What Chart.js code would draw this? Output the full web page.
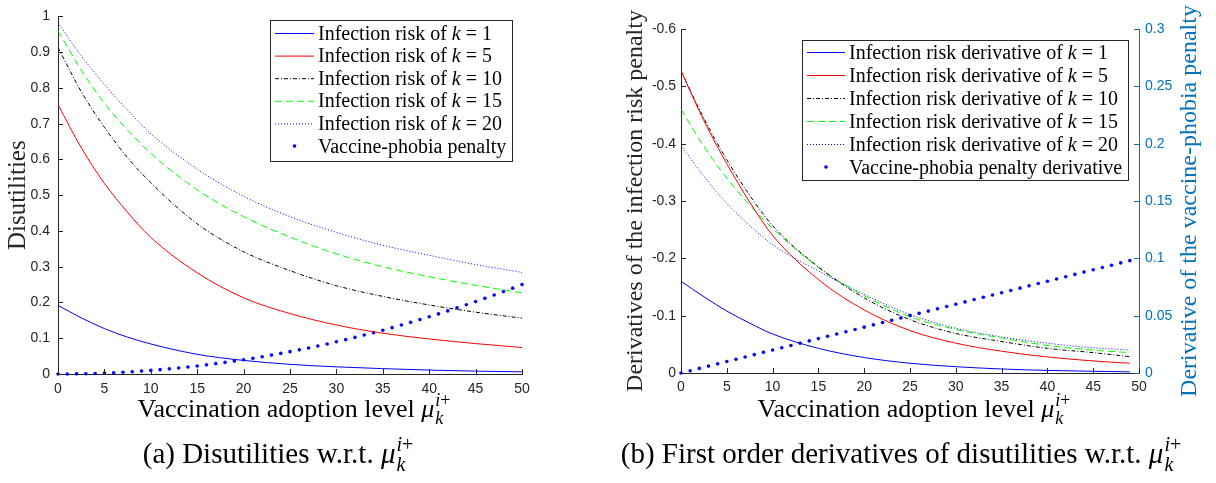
<!DOCTYPE html>
<html>
<head>
<meta charset="utf-8">
<script src="https://cdn.jsdelivr.net/npm/chart.js@4/dist/chart.umd.min.js"></script>
<style>
  body { margin: 0; background: #fff; width: 1216px; height: 483px; overflow: hidden; position: relative; }
  canvas { position: absolute; top: 0; }
  #izq { left: 0; }
  #der { left: 600px; }
</style>
</head>
<body>
<canvas id="izq" width="600" height="483"></canvas>
<canvas id="der" width="616" height="483"></canvas>
<script>
// DATOS

var etiquetasK = ['1', '5', '10', '15', '20'];

// (a) riesgo de infección
var mu = [0, 2.5, 5, 7.5, 10, 15, 20, 25, 30, 35, 40, 45, 50];
var riesgoK1 = [0.192, 0.157, 0.127, 0.103, 0.084, 0.055, 0.038, 0.027, 0.020, 0.015, 0.011, 0.008, 0.006];
var riesgoK5 = [0.753, 0.633, 0.533, 0.452, 0.382, 0.283, 0.213, 0.169, 0.137, 0.114, 0.098, 0.085, 0.074];
var riesgoK10 = [0.913, 0.79, 0.69, 0.605, 0.535, 0.42, 0.342, 0.289, 0.247, 0.217, 0.193, 0.173, 0.156];
var riesgoK15 = [0.96, 0.85, 0.757, 0.682, 0.617, 0.515, 0.44, 0.383, 0.336, 0.3, 0.272, 0.248, 0.227];
var riesgoK20 = [0.982, 0.89, 0.81, 0.738, 0.672, 0.573, 0.497, 0.44, 0.396, 0.36, 0.332, 0.306, 0.284];

var muEnteros = [0, 1, 2, 3, 4, 5, 6, 7, 8, 9, 10, 11, 12, 13, 14, 15, 16, 17, 18, 19, 20,
    21, 22, 23, 24, 25, 26, 27, 28, 29, 30, 31, 32, 33, 34, 35, 36, 37, 38, 39, 40,
    41, 42, 43, 44, 45, 46, 47, 48, 49, 50];
var penalizacion = [0, 0.0001, 0.0004, 0.0009, 0.0016, 0.0025, 0.0036, 0.0049, 0.0064, 0.0081, 0.01,
    0.0121, 0.0144, 0.0169, 0.0196, 0.0225, 0.0256, 0.0289, 0.0324, 0.0361, 0.04,
    0.0441, 0.0484, 0.0529, 0.0576, 0.0625, 0.0676, 0.0729, 0.0784, 0.0841, 0.09,
    0.0961, 0.1024, 0.1089, 0.1156, 0.1225, 0.1296, 0.1369, 0.1444, 0.1521, 0.16,
    0.1681, 0.1764, 0.1849, 0.1936, 0.2025, 0.2116, 0.2209, 0.2304, 0.2401, 0.25];

// (b) derivadas
var muDeriv = [0, 2.5, 5, 7.5, 10, 15, 20, 25, 30, 35, 40, 45, 49];
var derivK1 = [-0.16, -0.133, -0.108, -0.087, -0.068, -0.043, -0.027, -0.017, -0.011, -0.007, -0.0045, -0.003, -0.002];
var derivK5 = [-0.527, -0.44, -0.365, -0.298, -0.24, -0.163, -0.11, -0.074, -0.052, -0.038, -0.028, -0.021, -0.017];
var derivK10 = [-0.527, -0.444, -0.372, -0.31, -0.257, -0.185, -0.131, -0.093, -0.069, -0.055, -0.043, -0.0355, -0.0285];
var derivK15 = [-0.46, -0.395, -0.34, -0.293, -0.252, -0.184, -0.135, -0.098, -0.076, -0.061, -0.048, -0.04, -0.0355];
var derivK20 = [-0.397, -0.343, -0.296, -0.257, -0.224, -0.178, -0.137, -0.102, -0.078, -0.063, -0.052, -0.044, -0.04];

var muDerivEnteros = muEnteros.slice(0, 50);
var derivPenalizacion = [0, 0.002, 0.004, 0.006, 0.008, 0.01, 0.012, 0.014, 0.016, 0.018, 0.02,
    0.022, 0.024, 0.026, 0.028, 0.03, 0.032, 0.034, 0.036, 0.038, 0.04,
    0.042, 0.044, 0.046, 0.048, 0.05, 0.052, 0.054, 0.056, 0.058, 0.06,
    0.062, 0.064, 0.066, 0.068, 0.07, 0.072, 0.074, 0.076, 0.078, 0.08,
    0.082, 0.084, 0.086, 0.088, 0.09, 0.092, 0.094, 0.096, 0.098];

// ESTILOS

var gris = '#262626';
var azulEje = '#0072BD';
var serif = '"Liberation Serif", "Times New Roman", serif';
var sans = '"Liberation Sans", Arial, sans-serif';

var estilos = [
    { color: '#0000ff', dash: [] },
    { color: '#ff0000', dash: [] },
    { color: '#000000', dash: [4, 2, 1, 2] },
    { color: '#00ff00', dash: [7, 4] },
    { color: '#0000ff', dash: [1, 2] }
];

function pares(xs, ys) {
    return xs.map((x, i) => ({ x: x, y: ys[i] }));
}

function serieLinea(xs, ys, i, eje) {
    return {
        data: pares(xs, ys),
        borderColor: estilos[i].color,
        borderDash: estilos[i].dash,
        borderWidth: 1,
        pointRadius: 0,
        cubicInterpolationMode: 'monotone',
        yAxisID: eje
    };
}

function seriePuntos(xs, ys, eje) {
    return {
        data: pares(xs, ys),
        showLine: false,
        pointRadius: 1.8,
        pointBorderWidth: 0,
        pointBackgroundColor: '#0000ff',
        borderColor: '#0000ff',
        clip: false,
        yAxisID: eje
    };
}

function formatoTick(v) {
    return String(+v.toFixed(3));
}

// texto con mu_k^{i+}
function textoMu(ctx, antes, x, y, tam) {
    var tp = Math.round(tam * 0.7);
    ctx.font = tam + 'px ' + serif;
    var w1 = ctx.measureText(antes).width;
    ctx.font = 'italic ' + tam + 'px ' + serif;
    var w2 = ctx.measureText('μ').width;
    ctx.font = 'italic ' + tp + 'px ' + serif;
    var wi = ctx.measureText('i').width;
    var wk = ctx.measureText('k').width;
    ctx.font = tp + 'px ' + serif;
    var wm = ctx.measureText('+').width;
    var total = w1 + w2 + 1 + Math.max(wi + wm, wk);
    var x0 = x - total / 2;

    ctx.fillStyle = '#000';
    ctx.textBaseline = 'alphabetic';
    ctx.textAlign = 'left';
    ctx.font = tam + 'px ' + serif;
    ctx.fillText(antes, x0, y);
    ctx.font = 'italic ' + tam + 'px ' + serif;
    ctx.fillText('μ', x0 + w1, y);
    var xs = x0 + w1 + w2 + 1;
    ctx.font = 'italic ' + tp + 'px ' + serif;
    ctx.fillText('i', xs, y - tam * 0.42);
    ctx.fillText('k', xs, y + tam * 0.28);
    ctx.font = tp + 'px ' + serif;
    ctx.fillText('+', xs + wi, y - tam * 0.42);
}

function dibujarLeyenda(chart, ley) {
    var ctx = chart.ctx;
    ctx.save();
    ctx.fillStyle = '#fff';
    ctx.fillRect(ley.x, ley.y, ley.w, ley.h);
    ctx.strokeStyle = gris;
    ctx.lineWidth = 1;
    ctx.strokeRect(ley.x + 0.5, ley.y + 0.5, ley.w, ley.h);

    chart.data.datasets.forEach(function(ds, i) {
        var yc = ley.y + ley.primera + i * ley.paso;
        if (ds.showLine === false) {
            ctx.fillStyle = '#0000ff';
            ctx.beginPath();
            ctx.arc(ley.x + ley.m0 + (ley.m1 - ley.m0) / 2, yc, 1.8, 0, 2 * Math.PI);
            ctx.fill();
        } else {
            ctx.strokeStyle = estilos[i].color;
            ctx.lineWidth = 1;
            ctx.setLineDash(estilos[i].dash);
            ctx.beginPath();
            ctx.moveTo(ley.x + ley.m0, yc + 0.5);
            ctx.lineTo(ley.x + ley.m1, yc + 0.5);
            ctx.stroke();
            ctx.setLineDash([]);
        }
        var partes = ley.textos[i];
        var xt = ley.x + ley.texto;
        var yb = yc + 6.5;
        ctx.fillStyle = '#000';
        ctx.textAlign = 'left';
        ctx.textBaseline = 'alphabetic';
        ctx.font = ley.tam + 'px ' + serif;
        ctx.fillText(partes[0], xt, yb);
        if (partes.length > 1) {
            xt += ctx.measureText(partes[0]).width;
            ctx.font = 'italic ' + ley.tam + 'px ' + serif;
            ctx.fillText(partes[1], xt, yb);
            xt += ctx.measureText(partes[1]).width;
            ctx.font = ley.tam + 'px ' + serif;
            ctx.fillText(partes[2], xt, yb);
        }
    });
    ctx.restore();
}

// marcas hacia dentro, estilo MATLAB
function dibujarMarcas(chart) {
    var ctx = chart.ctx;
    var area = chart.chartArea;
    ctx.save();
    ctx.lineWidth = 1;
    Object.values(chart.scales).forEach(function(escala) {
        ctx.strokeStyle = escala.options.border.color;
        escala.ticks.forEach(function(t) {
            var p = Math.round(escala.getPixelForValue(t.value)) + 0.5;
            ctx.beginPath();
            if (escala.axis === 'x') {
                ctx.moveTo(p, area.bottom);
                ctx.lineTo(p, area.bottom - 5);
            } else if (escala.position === 'left') {
                ctx.moveTo(area.left, p);
                ctx.lineTo(area.left + 5, p);
            } else {
                ctx.moveTo(area.right, p);
                ctx.lineTo(area.right - 5, p);
            }
            ctx.stroke();
        });
    });
    ctx.restore();
}

// título del eje derecho, leído de abajo hacia arriba como en MATLAB
function tituloDerecho(chart, t) {
    var ctx = chart.ctx;
    var area = chart.chartArea;
    ctx.save();
    ctx.translate(t.x, (area.top + area.bottom) / 2);
    ctx.rotate(-Math.PI / 2);
    ctx.font = t.tam + 'px ' + serif;
    ctx.fillStyle = azulEje;
    ctx.textAlign = 'center';
    ctx.textBaseline = 'middle';
    ctx.fillText(t.texto, 0, 0);
    ctx.restore();
}

var decoracion = {
    id: 'decoracion',
    afterDraw: function(chart, args, opts) {
        dibujarMarcas(chart);
        dibujarLeyenda(chart, opts.leyenda);
        if (opts.tituloDer) tituloDerecho(chart, opts.tituloDer);
        textoMu(chart.ctx, 'Vaccination adoption level ', opts.tituloX.x, opts.tituloX.y, 26);
        textoMu(chart.ctx, opts.pie.texto, opts.pie.x, opts.pie.y, 29);
    }
};

function ejeX(padding, alto) {
    return {
        type: 'linear',
        min: 0,
        max: 50,
        ticks: { stepSize: 5, autoSkip: false, maxRotation: 0, padding: padding, color: gris, font: { family: sans, size: 14 } },
        grid: { display: false, drawTicks: false },
        border: { display: true, color: gris, width: 1 },
        afterFit: function(e) { e.height = alto; }
    };
}

function ejeY(opc) {
    return {
        type: 'linear',
        position: opc.posicion,
        min: opc.min,
        max: opc.max,
        reverse: !!opc.reverse,
        ticks: { stepSize: opc.paso, autoSkip: false, padding: opc.padding, color: opc.color,
            font: { family: sans, size: 14 }, callback: formatoTick },
        grid: { display: false, drawTicks: false },
        border: { display: true, color: opc.color, width: 1 },
        title: {
            display: !!opc.titulo,
            text: opc.titulo || '',
            color: opc.color,
            font: { family: serif, size: opc.tamTitulo || 24 },
            padding: { top: opc.despTitulo || 0, bottom: 0 }
        },
        afterFit: function(e) { e.width = opc.ancho; }
    };
}

function textosLeyenda(prefijo, ultimo) {
    return etiquetasK.map(k => [prefijo, 'k', ' = ' + k]).concat([[ultimo]]);
}

// (a) Disutilities
function crearGraficaRiesgo() {
    var ctx = document.getElementById('izq').getContext('2d');
    return new Chart(ctx, {
        type: 'line',
        data: {
            datasets: [
                serieLinea(mu, riesgoK1, 0, 'y'),
                serieLinea(mu, riesgoK5, 1, 'y'),
                serieLinea(mu, riesgoK10, 2, 'y'),
                serieLinea(mu, riesgoK15, 3, 'y'),
                serieLinea(mu, riesgoK20, 4, 'y'),
                seriePuntos(muEnteros, penalizacion, 'y')
            ]
        },
        options: {
            responsive: false,
            devicePixelRatio: 1,
            animation: false,
            events: [],
            layout: { padding: { left: 0, top: 10, right: 78, bottom: 0 } },
            scales: {
                x: ejeX(7, 109),
                y: ejeY({ posicion: 'left', min: 0, max: 1, paso: 0.1, padding: 8, color: gris,
                    titulo: 'Disutilities', tamTitulo: 25, despTitulo: 3, ancho: 58 })
            },
            plugins: {
                legend: { display: false },
                tooltip: { enabled: false },
                decoracion: {
                    leyenda: { x: 270, y: 20, w: 242, h: 141, primera: 13, paso: 22.6, m0: 5, m1: 44, texto: 48, tam: 20,
                        textos: textosLeyenda('Infection risk of ', 'Vaccine-phobia penalty') },
                    tituloX: { x: 294, y: 417 },
                    pie: { texto: '(a) Disutilities w.r.t. ', x: 278, y: 463 }
                }
            }
        },
        plugins: [decoracion]
    });
}

// (b) First order derivatives
function crearGraficaDerivadas() {
    var ctx = document.getElementById('der').getContext('2d');
    return new Chart(ctx, {
        type: 'line',
        data: {
            datasets: [
                serieLinea(muDeriv, derivK1, 0, 'y'),
                serieLinea(muDeriv, derivK5, 1, 'y'),
                serieLinea(muDeriv, derivK10, 2, 'y'),
                serieLinea(muDeriv, derivK15, 3, 'y'),
                serieLinea(muDeriv, derivK20, 4, 'y'),
                seriePuntos(muDerivEnteros, derivPenalizacion, 'y2')
            ]
        },
        options: {
            responsive: false,
            devicePixelRatio: 1,
            animation: false,
            events: [],
            layout: { padding: { left: 0, top: 29, right: 0, bottom: 0 } },
            scales: {
                x: ejeX(6, 110),
                y: ejeY({ posicion: 'left', min: -0.6, max: 0, reverse: true, paso: 0.1, padding: 5, color: gris,
                    titulo: 'Derivatives of the infection risk penalty', tamTitulo: 24, despTitulo: 21, ancho: 81 }),
                y2: ejeY({ posicion: 'right', min: 0, max: 0.3, paso: 0.05, padding: 6, color: azulEje, ancho: 77 })
            },
            plugins: {
                legend: { display: false },
                tooltip: { enabled: false },
                decoracion: {
                    leyenda: { x: 202, y: 40, w: 326, h: 140, primera: 12, paso: 23, m0: 5, m1: 43, texto: 47, tam: 20,
                        textos: textosLeyenda('Infection risk derivative of ', 'Vaccine-phobia penalty derivative') },
                    tituloDer: { texto: 'Derivative of the vaccine-phobia penalty', x: 590, tam: 24 },
                    tituloX: { x: 314, y: 417 },
                    pie: { texto: '(b) First order derivatives of disutilities w.r.t. ', x: 301, y: 463 }
                }
            }
        },
        plugins: [decoracion]
    });
}

crearGraficaRiesgo();
crearGraficaDerivadas();
</script>
</body>
</html>
